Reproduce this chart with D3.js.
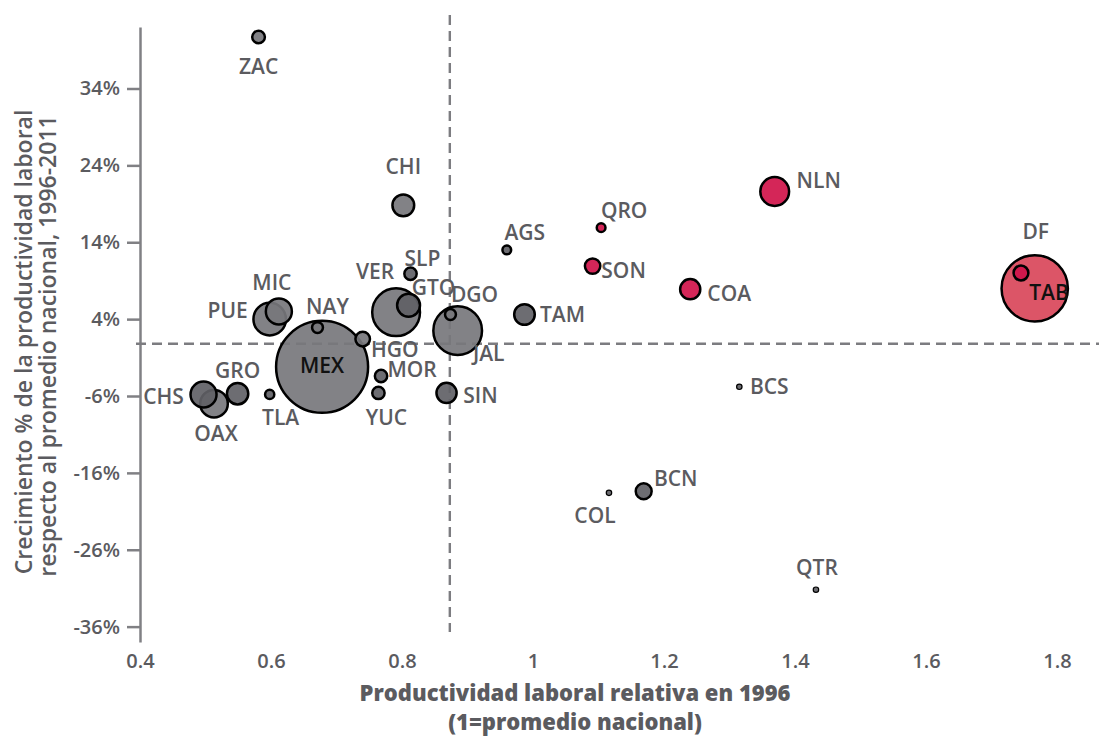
<!DOCTYPE html>
<html>
<head>
<meta charset="utf-8">
<script src="https://cdn.jsdelivr.net/npm/d3@7"></script>
<style>
	body { margin: 0; background: #fff; }
	#g-container text { font-family: "Open Sans", "Noto Sans", sans-serif; }
</style>
</head>
<body>
<div id="g-container"></div>
<script>

	// estados, productividad relativa 1996 (1 = promedio nacional), crecimiento %, tamano relativo
	var estados = ["MEX","DF","JAL","VER","PUE","NLN","OAX","CHS","MIC","GTO","CHI","GRO","TAM","COA","SIN","BCN","SON","TAB","HGO","ZAC","SLP","MOR","YUC","DGO","NAY","TLA","AGS","QRO","BCS","COL","QTR"];
	var productividad = [0.678,1.766,0.885,0.791,0.598,1.369,0.513,0.497,0.612,0.810,0.802,0.549,0.987,1.240,0.868,1.169,1.091,1.745,0.740,0.581,0.813,0.768,0.764,0.874,0.671,0.598,0.960,1.104,1.315,1.116,1.432];
	var crecimiento = [-2.2,8.0,2.5,4.9,4.0,20.6,-7.0,-5.8,5.0,5.8,18.8,-5.7,4.6,7.9,-5.6,-18.4,10.9,10.0,1.4,40.7,9.9,-3.4,-5.6,4.6,2.9,-5.8,13.0,15.9,-4.8,-18.6,-31.2];
	var tamano = [100,52,28,27,12.5,9.8,9.0,8.0,8.0,6.2,5.6,5.4,5.0,4.8,4.8,3.0,2.8,2.6,2.5,1.9,1.8,1.8,1.8,1.4,1.4,1.0,0.9,0.9,0.35,0.35,0.35];

	var destacados = ["NLN","QRO","SON","COA","DF","TAB"];
	var oscuros = ["SIN","TAM","BCN","GTO","CHS","GRO","TLA","AGS","MOR","YUC","BCS","COL","QTR","SLP"];

	var xTicks = [0.4, 0.6, 0.8, 1, 1.2, 1.4, 1.6, 1.8];
	var yTicks = [-36, -26, -16, -6, 4, 14, 24, 34];
	var promedioX = 0.873;
	var promedioY = 0.8;

	// donde va cada etiqueta respecto a su burbuja (px)
	var etiquetas = {
		ZAC: [0, 29], CHI: [0, -39], AGS: [18, -17], SLP: [12, -15], VER: [-21, -41],
		GTO: [25, -18], DGO: [24, -20], JAL: [31, 23], TAM: [38, 0], MIC: [-7, -29],
		PUE: [-42, -9], NAY: [10, -21], HGO: [32, 10], MEX: [0, -1], MOR: [31, -7],
		YUC: [8, 25], SIN: [34, 3], TLA: [11, 23], GRO: [0, -23], CHS: [-40, 2],
		OAX: [2, 30], QRO: [23, -17], NLN: [44, -11], SON: [31, 4], COA: [39, 4],
		DF: [1, -57], TAB: [28, 19], BCS: [30, 0], COL: [-14, 23], BCN: [32, -13],
		QTR: [1, -22]
	};

	var config = {
		"el": "#g-container",
		"width": 1099,
		"height": 738
	};

	var data = estados.map(function(d, i){
		return {
			label: d,
			x: productividad[i],
			y: crecimiento[i],
			size: tamano[i]
		};
	});

	var svg = d3.select(config.el).append("svg")
		.attr("width", config.width)
		.attr("height", config.height);

	var x = d3.scaleLinear().domain([0.4, 1.8]).range([140, 1057]);
	var y = d3.scaleLinear().domain([-38, 42]).range([642, 27]);
	var r = d3.scaleSqrt().domain([0, 100]).range([0, 46]);

	var gris = "#5b5b5f";

	// eje y
	var yAxis = svg.append("g")
		.attr("transform", "translate(" + x(0.4) + ",0)")
		.call(d3.axisLeft(y).tickValues(yTicks).tickSize(13).tickSizeOuter(0).tickPadding(7)
			.tickFormat(function(d){ return d + "%"; }));

	yAxis.select(".domain").attr("stroke", "#808084").attr("stroke-width", 2.5);
	yAxis.selectAll(".tick line").attr("stroke", "#808084").attr("stroke-width", 2.5);
	yAxis.selectAll(".tick text").style("font-size", "20px").style("font-weight", 600).attr("fill", gris);

	// eje x
	var xAxis = svg.append("g")
		.attr("transform", "translate(0," + y(-38) + ")")
		.call(d3.axisBottom(x).tickValues(xTicks).tickSize(0).tickPadding(12)
			.tickFormat(function(d){ return String(+d.toFixed(1)); }));

	xAxis.select(".domain").remove();
	xAxis.selectAll(".tick text").style("font-size", "20px").style("font-weight", 600).attr("fill", gris);

	// promedios
	svg.append("line")
		.attr("x1", x(promedioX)).attr("x2", x(promedioX))
		.attr("y1", 15).attr("y2", 632)
		.attr("stroke", "#7c7c80").attr("stroke-width", 2.4).attr("stroke-dasharray", "10,6");

	svg.append("line")
		.attr("x1", 136).attr("x2", config.width)
		.attr("y1", y(promedioY)).attr("y2", y(promedioY))
		.attr("stroke", "#7c7c80").attr("stroke-width", 2.4).attr("stroke-dasharray", "10,6");

	// burbujas
	var ordenados = data.slice().sort(function(a, b){ return b.size - a.size; });

	svg.append("g").selectAll("circle").data(ordenados).enter().append("circle")
		.attr("cx", function(d){ return x(d.x); })
		.attr("cy", function(d){ return y(d.y); })
		.attr("r", function(d){ return r(d.size); })
		.attr("fill", function(d){
			if(d.label == "DF"){
				return "#d9475a";
			}
			if(destacados.indexOf(d.label) > -1){
				return "#d0134a";
			}
			if(oscuros.indexOf(d.label) > -1){
				return "#616166";
			}
			return "#77777c";
		})
		.attr("fill-opacity", 0.92)
		.attr("stroke", "#000")
		.attr("stroke-width", function(d){
			return r(d.size) < 4 ? 1.2 : 2.5;
		});

	// etiquetas
	svg.append("g").selectAll("text").data(data).enter().append("text")
		.attr("x", function(d){ return x(d.x) + etiquetas[d.label][0]; })
		.attr("y", function(d){ return y(d.y) + etiquetas[d.label][1]; })
		.attr("dy", "0.36em")
		.style("text-anchor", "middle")
		.style("font-size", "21px")
		.style("font-weight", 600)
		.attr("fill", function(d){
			return (d.label == "MEX" || d.label == "TAB") ? "#111" : gris;
		})
		.text(function(d){ return d.label; });

	// titulos
	var yTitulo = svg.append("text")
		.attr("transform", "translate(0,342) rotate(-90)")
		.style("text-anchor", "middle")
		.style("font-size", "23px")
		.style("font-weight", 600)
		.attr("fill", gris);
	yTitulo.append("tspan").attr("x", 0).attr("y", 32).text("Crecimiento % de la productividad laboral");
	yTitulo.append("tspan").attr("x", -4).attr("y", 56).text("respecto al promedio nacional, 1996-2011");

	var xTitulo = svg.append("text")
		.style("text-anchor", "middle")
		.style("font-size", "22px")
		.style("font-weight", 800)
		.attr("fill", gris);
	xTitulo.append("tspan").attr("x", 575).attr("y", 701).text("Productividad laboral relativa en 1996");
	xTitulo.append("tspan").attr("x", 575).attr("y", 730).text("(1=promedio nacional)");

</script>
</body>
</html>
